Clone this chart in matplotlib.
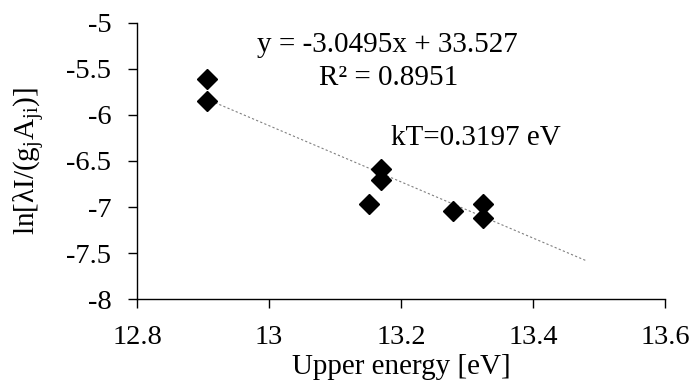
import numpy as np
import matplotlib
matplotlib.use('Agg')
import matplotlib.pyplot as plt

plt.rcParams['font.family'] = ['Liberation Serif', 'DejaVu Serif']
plt.rcParams['mathtext.fontset'] = 'custom'
plt.rcParams['mathtext.rm'] = 'Liberation Serif'
plt.rcParams['mathtext.it'] = 'Liberation Serif:italic'

# 数据点 (上能级能量, ln[λI/(gA)])
upper_energy = [12.906, 12.906, 13.151, 13.169, 13.169, 13.279, 13.325, 13.325]
ln_values = [-5.615, -5.851, -6.971, -6.590, -6.702, -7.043, -6.963, -7.115]

# 趋势线参数
slope = -3.0495
intercept = 33.527
r2 = 0.8951
kT = 0.3197
forecast = 0.155

fig = plt.figure(figsize=(6.89, 3.87), dpi=100, facecolor='white')
ax = fig.add_axes([0.199, 0.227, 0.766, 0.714])

x_fit = np.array([min(upper_energy), max(upper_energy) + forecast])
ax.plot(x_fit, slope * x_fit + intercept, color='#808080', lw=0.8, linestyle=(0, (2, 2)))
ax.plot(upper_energy, ln_values, 'D', color='black', markersize=10.5, zorder=3)

ax.set_xlim(12.8, 13.6)
ax.set_ylim(-8, -5)
ax.set_xticks([12.8, 13.0, 13.2, 13.4, 13.6])
ax.set_xticklabels(['12.8', '13', '13.2', '13.4', '13.6'])
ax.set_yticks([-8, -7.5, -7, -6.5, -6, -5.5, -5])
ax.set_yticklabels(['-8', '-7.5', '-7', '-6.5', '-6', '-5.5', '-5'])

ax.spines['top'].set_visible(False)
ax.spines['right'].set_visible(False)
for s in ['left', 'bottom']:
    ax.spines[s].set_linewidth(1.0)
ax.tick_params(axis='both', direction='out', length=6.5, width=1.0, labelsize=20.5)
ax.tick_params(axis='y', pad=12)
ax.tick_params(axis='x', pad=12)

ax.set_xlabel('Upper energy [eV]', fontsize=21, labelpad=3)
ax.set_ylabel(r'$\mathregular{ln[\lambda I/(g_jA_{ji})]}$', fontsize=21, labelpad=14)

ax.text(13.179, -5.242, 'y = -3.0495x + 33.527', fontsize=21, ha='center', va='center')
ax.text(13.181, -5.60, 'R² = 0.8951', fontsize=21, ha='center', va='center')
ax.text(13.313, -6.253, 'kT=0.3197 eV', fontsize=21, ha='center', va='center')

fig.savefig('out.png', dpi=100, facecolor='white')
